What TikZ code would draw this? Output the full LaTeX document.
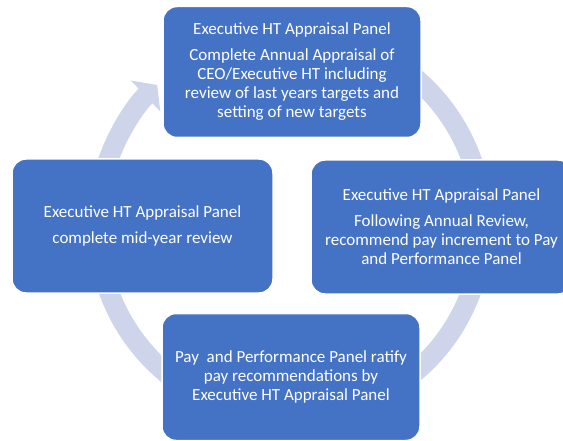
\documentclass[tikz,border=0pt]{standalone}
\usepackage{fontspec}
\setmainfont{Carlito}
\usetikzlibrary{arrows.meta,positioning}
\definecolor{panelblue}{HTML}{4472C4}
\definecolor{ringblue}{HTML}{CED4EA}

\begin{document}
\begin{tikzpicture}[x=1pt,y=1pt]
                \tikzstyle{panel}=[rectangle, rounded corners=14pt, fill=panelblue, draw=white, line width=1.5pt, text=white, align=center, inner sep=3pt, minimum width=260pt, minimum height=132pt, font=\fontsize{17}{19}\selectfont]
                \useasboundingbox (0,0) rectangle (563,-441);
                \coordinate (hub) at (290,-225);
                % cycle ring behind the panels
                \draw [ringblue, line width=20pt, -{Triangle[width=42pt,length=16pt]}] (hub) ++(70:193) arc [start angle=70, end angle=-226.5, radius=193];
                \node [panel, minimum width=258pt, minimum height=131pt] (annual) at (292,-72) {Executive HT Appraisal Panel\\[7pt]Complete Annual Appraisal of\\CEO/Executive HT including\\review of last years targets and\\setting of new targets};
                \node [panel, minimum width=261pt, minimum height=134pt] (recommend) at (441.5,-227) {Executive HT Appraisal Panel\\[7pt]Following Annual Review,\\recommend pay increment to Pay\\and Performance Panel};
                \node [panel, minimum width=258pt, minimum height=127pt] (ratify) at (291,-377) {Pay\ \ and Performance Panel ratify\\pay recommendations by\\Executive HT Appraisal Panel};
                \node [panel, minimum width=261pt, minimum height=134pt] (midyear) at (142.5,-226) {Executive HT Appraisal Panel\\[7pt]complete mid-year review};
\end{tikzpicture}
\end{document}
